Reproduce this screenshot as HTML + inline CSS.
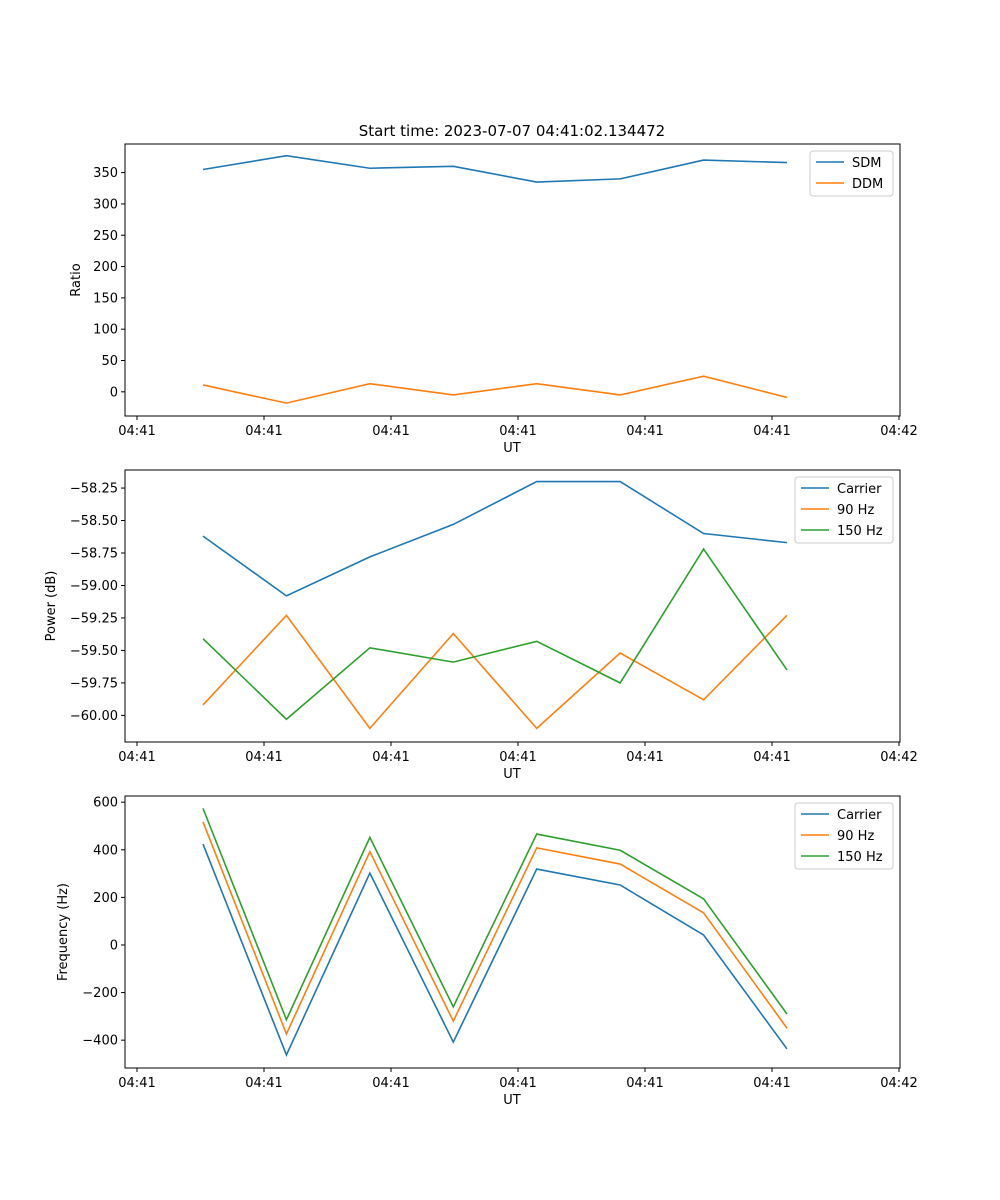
<!DOCTYPE html>
<html><head><meta charset="utf-8">
<style>
body{margin:0;background:#fff;}
svg{display:block;font-family:"DejaVu Sans","Liberation Sans",sans-serif;}
</style></head>
<body>
<svg id="chart" width="1000" height="1200">
<text x="512" y="136" font-size="15" text-anchor="middle">Start time: 2023-07-07 04:41:02.134472</text>
</svg>
<script>
const xLabels = ["04:41","04:41","04:41","04:41","04:41","04:41","04:42"];
const ratioTicks = [0,50,100,150,200,250,300,350];
const sdm = [355,377,357,360,335,340,370,366];
const ddm = [11,-18,13,-5,13,-5,25,-9];
const powerTicks = [-60.00,-59.75,-59.50,-59.25,-59.00,-58.75,-58.50,-58.25];
const powCarrier = [-58.62,-59.08,-58.78,-58.53,-58.20,-58.20,-58.60,-58.67];
const pow90 = [-59.92,-59.23,-60.10,-59.37,-60.10,-59.52,-59.88,-59.23];
const pow150 = [-59.41,-60.03,-59.48,-59.59,-59.43,-59.75,-58.72,-59.65];
const freqTicks = [-400,-200,0,200,400,600];
const freqCarrier = [424,-462,302,-408,319,252,42,-437];
const freq90 = [517,-374,392,-320,408,340,135,-350];
const freq150 = [574,-314,452,-260,466,398,194,-290];
const times = [0,1,2,3,4,5,6,7];

const NS="http://www.w3.org/2000/svg";
const svg=document.getElementById('chart');
const C=["#1f77b4","#ff7f0e","#2ca02c"];
function mk(tag,attrs,parent){const e=document.createElementNS(NS,tag);for(const k in attrs)e.setAttribute(k,attrs[k]);(parent||svg).appendChild(e);return e;}
const L=125,R=900;
function xs(i){return 203+(i)*(787-203)/7;}
function xtick(i){return 137+i*(899-137)/6;}

function panel(name,top,yMin,yMax,ticks,fmt,ylabel,series,names,legendW){
  const bot=top+272;
  const ys=v=>bot-(v-yMin)/(yMax-yMin)*(bot-top);
  const g=mk('g',{});
  
  
  ticks.forEach(t=>{
    const y=ys(t);
    mk('line',{x1:L-4,x2:L,y1:y,y2:y,stroke:'#000','stroke-width':1},g);
    const tx=mk('text',{x:L-7,y:y+4.5,'font-size':13,'text-anchor':'end'},g);
    tx.textContent=fmt(t);
    
    
  });
  xLabels.forEach((lb,i)=>{
    const x=xtick(i);
    mk('line',{x1:x,x2:x,y1:bot,y2:bot+4,stroke:'#000','stroke-width':1},g);
    const tx=mk('text',{x:x,y:bot+19,'font-size':13,'text-anchor':'middle'},g);
    tx.textContent=lb;
    
    
  });
  const xl=mk('text',{x:512,y:bot+36,'font-size':13,'text-anchor':'middle'},g);
  xl.textContent='UT';
  
  
  const yx=name==='ratio'?80:name==='power'?55:67;
  const yl=mk('text',{x:yx,y:(top+bot)/2,'font-size':13,'text-anchor':'middle',transform:`rotate(-90 ${yx} ${(top+bot)/2})`},g);
  yl.textContent=ylabel;
  
  
  series.forEach((s,k)=>{
    const p=mk('polyline',{points:s.map((v,i)=>xs(times[i])+','+ys(v)).join(' '),fill:'none',stroke:C[k],'stroke-width':1.6},g);
    
    
  });
  mk('rect',{x:L,y:top,width:R-L,height:bot-top,fill:'none',stroke:'#000','stroke-width':1},g);
  const lh=21*names.length+3;
  const lx=R-7-legendW, ly=top+7;
  const lg=mk('g',{},g);
  
  
  mk('rect',{x:lx,y:ly,width:legendW,height:lh,fill:'#fff',stroke:'#ccc',rx:3},lg);
  names.forEach((n,k)=>{
    const yy=ly+11+k*21;
    mk('line',{x1:lx+6,x2:lx+34,y1:yy,y2:yy,stroke:C[k],'stroke-width':1.6},lg);
    const t=mk('text',{x:lx+42,y:yy+5,'font-size':13},lg);
    t.textContent=n;
    
    
  });
}
panel('ratio',144,-38.6,395.7,ratioTicks,t=>String(t),'Ratio',[sdm,ddm],['SDM','DDM'],83);
panel('power',470,-60.205,-58.111,powerTicks,t=>'\u2212'+Math.abs(t).toFixed(2),'Power (dB)',[powCarrier,pow90,pow150],['Carrier','90 Hz','150 Hz'],98);
panel('frequency',796,-517,626,freqTicks,t=>t<0?'\u2212'+(-t):String(t),'Frequency (Hz)',[freqCarrier,freq90,freq150],['Carrier','90 Hz','150 Hz'],98);
</script>
</body></html>
